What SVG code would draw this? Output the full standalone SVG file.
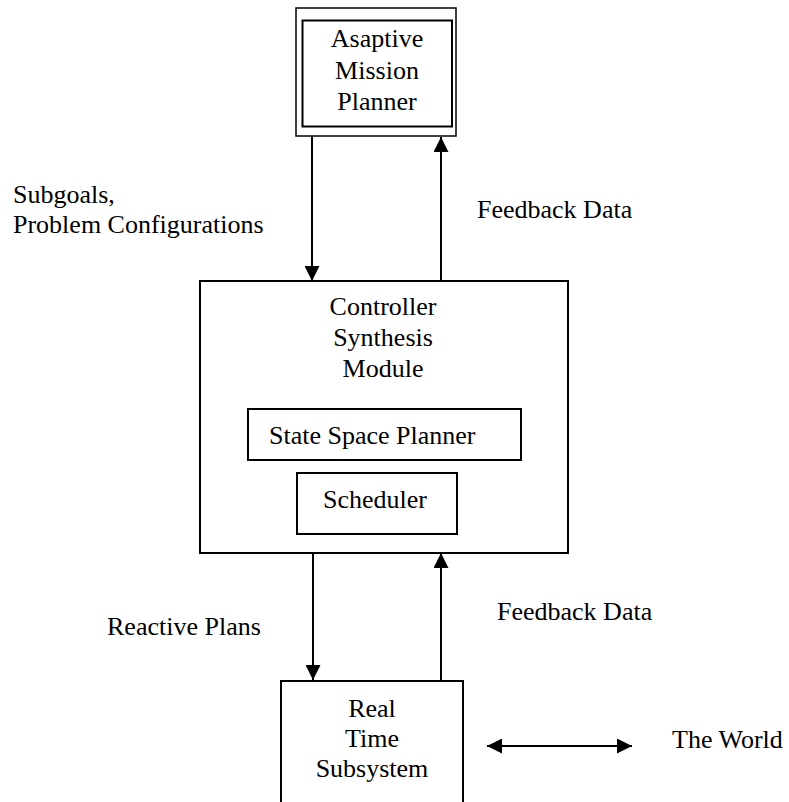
<svg xmlns="http://www.w3.org/2000/svg" width="789" height="802" viewBox="0 0 789 802">
  <style>
    .box { fill: #fff; stroke: #000; stroke-width: 2; }
    .thin { fill: #fff; stroke: #000; stroke-width: 1.5; }
    .wire { fill: none; stroke: #000; stroke-width: 2; }
    text { font-family: "Liberation Serif", "Times New Roman", serif; font-size: 26px; fill: #000; }
    .c { text-anchor: middle; }
  </style>
  <defs>
    <marker id="arrow" viewBox="0 0 15 15" refX="15" refY="7.5" markerWidth="15" markerHeight="15" markerUnits="userSpaceOnUse" orient="auto-start-reverse">
      <path d="M0,0 L15,7.5 L0,15 Z" fill="#000"/>
    </marker>
  </defs>
  <rect width="789" height="802" fill="#fff"/>

  <g id="mission-planner">
    <rect class="thin" x="296" y="8" width="160" height="128"/>
    <rect class="box" x="302.5" y="20.5" width="149.5" height="106"/>
    <text class="c" x="377" y="47">Asaptive</text>
    <text class="c" x="377" y="79">Mission</text>
    <text class="c" x="377" y="110">Planner</text>
  </g>

  <g id="controller-synthesis">
    <rect class="box" x="200" y="281" width="368" height="272"/>
    <text class="c" x="383" y="315">Controller</text>
    <text class="c" x="383" y="346">Synthesis</text>
    <text class="c" x="383" y="377">Module</text>
  </g>

  <g id="state-space-planner">
    <rect class="box" x="248" y="409" width="273" height="51"/>
    <text x="269" y="444">State Space Planner</text>
  </g>

  <g id="scheduler">
    <rect class="box" x="297" y="473" width="160" height="61"/>
    <text x="323" y="508">Scheduler</text>
  </g>

  <g id="real-time-subsystem">
    <path class="wire" d="M281,803 V681 H463 V803"/>
    <text class="c" x="372" y="717">Real</text>
    <text class="c" x="372" y="747">Time</text>
    <text class="c" x="372" y="777">Subsystem</text>
  </g>

  <g id="the-world">
    <text x="672" y="748">The World</text>
  </g>

  <g id="connectors">
    <line class="wire" x1="312" y1="136" x2="312" y2="281" marker-end="url(#arrow)"/>
    <line class="wire" x1="441" y1="281" x2="441" y2="137" marker-end="url(#arrow)"/>
    <line class="wire" x1="313" y1="553" x2="313" y2="680" marker-end="url(#arrow)"/>
    <line class="wire" x1="441" y1="681" x2="441" y2="553" marker-end="url(#arrow)"/>
    <line class="wire" x1="487" y1="746" x2="632" y2="746" marker-start="url(#arrow)" marker-end="url(#arrow)"/>
    <text x="13" y="203">Subgoals,</text>
    <text x="13" y="233">Problem Configurations</text>
    <text x="477" y="218">Feedback Data</text>
    <text x="107" y="635">Reactive Plans</text>
    <text x="497" y="620">Feedback Data</text>
  </g>
</svg>
